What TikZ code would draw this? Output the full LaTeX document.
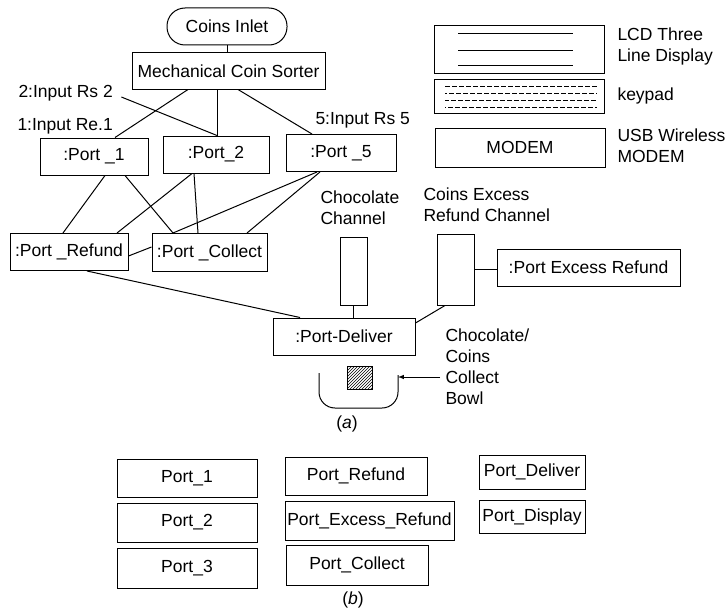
\documentclass[tikz,border=0pt]{standalone}
\usepackage{fontspec}
\setmainfont{Liberation Sans}
\usetikzlibrary{patterns}
\begin{document}
\begin{tikzpicture}[x=1pt, y=-1pt, line width=1pt,
  font=\fontsize{17.5}{21}\selectfont,
  port/.style={draw, inner sep=0pt, minimum height=37pt},
  lbl/.style={align=left, inner sep=0pt, anchor=west},
  keyrow/.style={line width=0.8pt, dash pattern=on 5pt off 2pt}]
\useasboundingbox (0,0) rectangle (728,610);

% (a) coin path
\node[port, rounded corners=18pt, minimum width=120pt] (inlet) at (227,26.5) {Coins Inlet};
\node[port, minimum width=193pt, minimum height=36pt] (sorter) at (228.5,71) {Mechanical Coin Sorter};
\node[lbl] (in2) at (18,93) {2:Input Rs 2};
\node[lbl] (in1) at (17,126) {1:Input Re.1};
\node[lbl] (in5) at (315,120) {5:Input Rs 5};
\node[port, minimum width=108pt] (port1) at (94,156.5) {:Port \_1};
\node[port, minimum width=106pt] (port2) at (216,154.5) {:Port\_2};
\node[port, minimum width=110pt] (port5) at (341,153) {:Port \_5};
\node[port, minimum width=118pt] (refund) at (69,252) {:Port \_Refund};
\node[port, minimum width=115pt, minimum height=38pt] (collect) at (209.5,252.5) {:Port \_Collect};
\node[lbl] (chocolbl) at (320,207.5) {Chocolate\\Channel};
\node[draw, inner sep=0pt, minimum width=27pt, minimum height=68pt] (choco) at (353.5,271) {};
\node[lbl] (excesslbl) at (423,205) {Coins Excess\\Refund Channel};
\node[draw, inner sep=0pt, minimum width=37pt, minimum height=71pt] (excess) at (455.5,269.5) {};
\node[port, minimum width=183pt] (excessport) at (588.5,267.5) {:Port Excess Refund};
\node[port, minimum width=142pt] (deliver) at (344,336.5) {:Port-Deliver};
\node[lbl] (bowllbl) at (445,367) {Chocolate/\\Coins\\Collect\\Bowl};
\node (capa) at (347,424) {(\textit{a})};

\draw (inlet.south) -- (inlet.south |- sorter.north);
\draw ([xshift=-40.5pt]sorter.south) -- ([xshift=21pt]port1.north);
\draw ([xshift=-11.5pt]sorter.south) -- ([xshift=1pt]port2.north);
\draw ([xshift=9.5pt]sorter.south) -- ([xshift=-29pt]port5.north);
\draw ([xshift=8pt,yshift=-4pt]in2.east) -- ([xshift=1pt]port2.north);
\draw ([xshift=11pt]port1.south) -- ([xshift=-6pt]refund.north);
\draw ([xshift=31pt]port1.south) -- ([xshift=-36.5pt]collect.north);
\draw ([xshift=-24pt]port2.south) -- ([xshift=48pt]refund.north);
\draw ([xshift=-22pt]port2.south) -- ([xshift=-11.5pt]collect.north);
\draw ([xshift=-24pt]port5.south) -- ([xshift=-36.5pt]collect.north);
\draw ([xshift=-21pt]port5.south) -- ([xshift=37.5pt]collect.north);
\draw ([yshift=-4pt]refund.east) -- ([yshift=5.5pt]collect.west);
\draw ([xshift=18pt]refund.south) -- ([xshift=-44pt]deliver.north);
\draw (choco.south) -- (choco.south |- deliver.north);
\draw (excess.east) -- (excess.east -| excessport.west);
\draw ([xshift=-10.5pt]excess.south) -- ([yshift=13.5pt]deliver.east);

% bowl
\draw[rounded corners=16pt] (319,373) -- (319,408) -- (398,408) -- (398,375);
\draw[pattern=north east lines] (347,366) rectangle (372,389);
\coordinate (bowl) at (398,377);
\draw[-latex] ([xshift=-5pt,yshift=-10pt]bowllbl.west) -- (bowl);

% display, keypad, modem
\node[port, minimum width=170pt, minimum height=48pt] (lcd) at (519,50) {};
\foreach \y in {34,51,66} \draw (458,\y) -- (573,\y);
\node[lbl] (lcdlbl) at (617,46) {LCD Three\\Line Display};
\node[port, minimum width=170pt, minimum height=34pt] (keypad) at (519,96) {};
\draw[keyrow] (445,86) -- (597,86);
\draw[keyrow, dash phase=3pt] (445,93) -- (597,93);
\draw[keyrow, dash phase=1pt] (445,100) -- (597,100);
\draw[keyrow, dash phase=4pt] (445,107) -- (597,107);
\node[lbl] (keypadlbl) at (617,96) {keypad};
\node[port, minimum width=170pt, minimum height=39pt] (modem) at (520,147.5) {MODEM};
\node[lbl] (modemlbl) at (617,146) {USB Wireless\\MODEM};

% (b) port objects
\node[port, minimum width=140pt, minimum height=38pt] (bport1) at (187,478) {Port\_1};
\node[port, minimum width=140pt, minimum height=39pt] (bport2) at (187,522.5) {Port\_2};
\node[port, minimum width=140pt, minimum height=40pt] (bport3) at (187,568) {Port\_3};
\node[port, minimum width=142pt, minimum height=38pt] (brefund) at (356,476) {Port\_Refund};
\node[port, minimum width=169pt, minimum height=39pt] (bexcess) at (369.5,520.5) {Port\_Excess\_Refund};
\node[port, minimum width=142pt, minimum height=40pt] (bcollect) at (357,565) {Port\_Collect};
\node[port, minimum width=106pt, minimum height=34pt] (bdeliver) at (532,472) {Port\_Deliver};
\node[port, minimum width=106pt, minimum height=33pt] (bdisplay) at (532,516.5) {Port\_Display};
\node (capb) at (353,600) {(\textit{b})};
\end{tikzpicture}
\end{document}
